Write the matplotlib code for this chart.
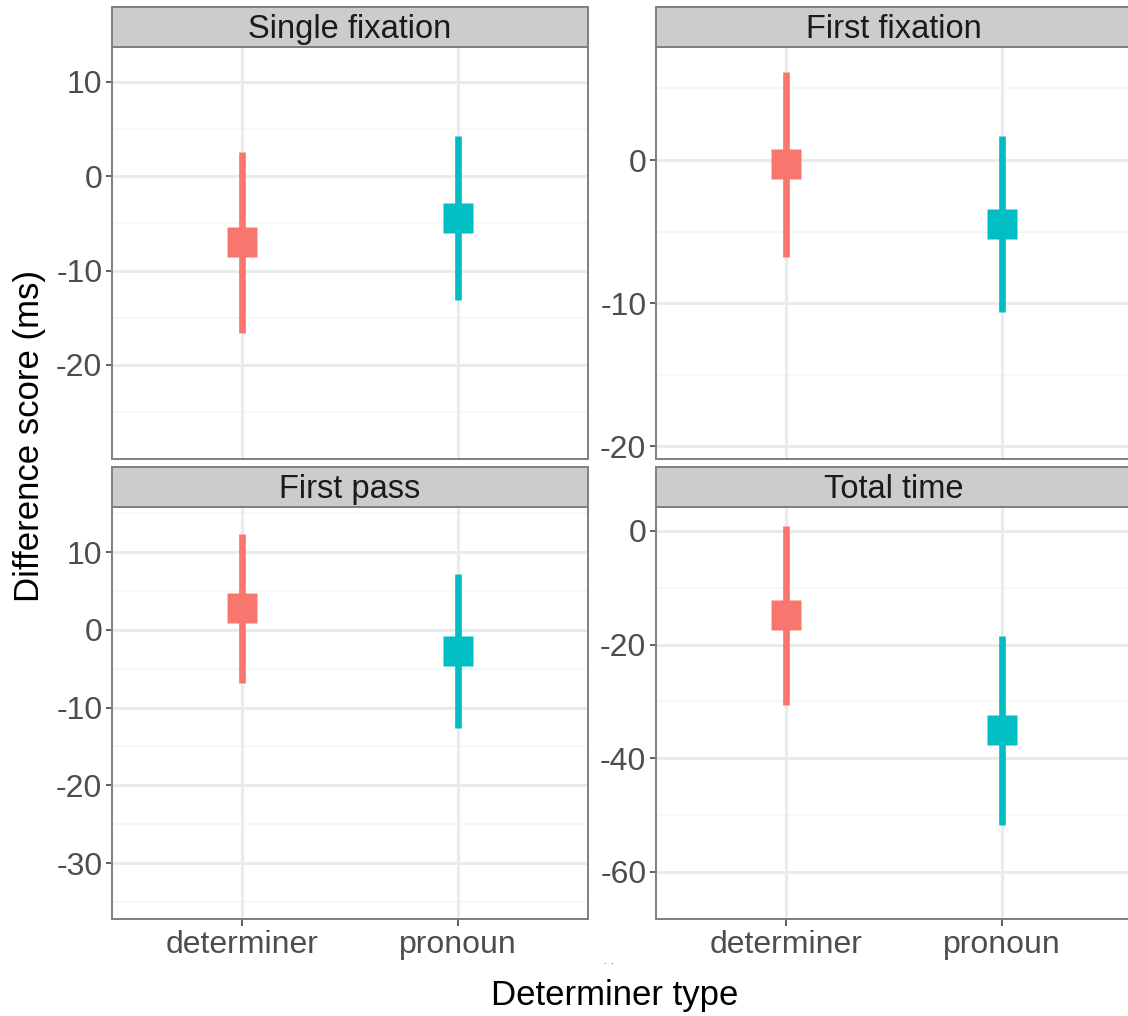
import numpy as np
import matplotlib.pyplot as plt

plt.rcParams['font.family'] = ['Liberation Sans', 'DejaVu Sans']

# data
measures = ['Single fixation', 'First fixation', 'First pass', 'Total time']
det_types = ['determiner', 'pronoun']
estimate = {
    'Single fixation': [-7.0, -4.4],
    'First fixation': [-0.3, -4.5],
    'First pass': [2.8, -2.7],
    'Total time': [-14.8, -35.0],
}
ci_low = {
    'Single fixation': [-16.6, -13.1],
    'First fixation': [-6.8, -10.6],
    'First pass': [-6.85, -12.6],
    'Total time': [-30.6, -51.7],
}
ci_high = {
    'Single fixation': [2.6, 4.3],
    'First fixation': [6.15, 1.7],
    'First pass': [12.3, 7.2],
    'Total time': [0.9, -18.5],
}
y_limits = {
    'Single fixation': (-29.97, 13.71),
    'First fixation': (-20.9, 7.9),
    'First pass': (-37.2, 15.8),
    'Total time': (-68.3, 4.2),
}
y_breaks = {
    'Single fixation': [-20, -10, 0, 10],
    'First fixation': [-20, -10, 0],
    'First pass': [-30, -20, -10, 0, 10],
    'Total time': [-60, -40, -20, 0],
}
colors = ['#F8766D', '#00BFC4']

W, H = 1128, 1016
fig = plt.figure(figsize=(W / 100, H / 100), dpi=100)


def px_axes(x0, y0, x1, y1):
    return fig.add_axes([x0 / W, 1 - y1 / H, (x1 - x0) / W, (y1 - y0) / H])


# panel boxes in pixels: (left, strip top, strip bottom, panel bottom)
boxes = [
    (112, 7, 47, 459),
    (656, 7, 47, 459),
    (112, 467, 507, 919),
    (656, 467, 507, 919),
]
pw = 476

for i, m in enumerate(measures):
    x0, st, sb, pb = boxes[i]
    ax = px_axes(x0, sb, x0 + pw, pb)
    strip = px_axes(x0, st, x0 + pw, sb)

    # strip
    strip.set_facecolor('#CCCCCC')
    strip.set_xticks([])
    strip.set_yticks([])
    for s in strip.spines.values():
        s.set_color('#7F7F7F')
        s.set_linewidth(1.4)
    strip.text(0.5, 0.43, m, ha='center', va='center', fontsize=23.5,
               color='#1A1A1A', transform=strip.transAxes)

    # panel
    xs = np.arange(len(det_types))
    lo, hi = y_limits[m]
    ax.set_xlim(-0.6, 1.6)
    ax.set_ylim(lo, hi)
    brk = y_breaks[m]
    step = brk[1] - brk[0]
    minors = [b + step / 2 for b in [brk[0] - step] + brk if lo < b + step / 2 < hi]
    for v in minors:
        ax.axhline(v, color='#F5F5F5', lw=1.1, zorder=0)
    for v in brk:
        ax.axhline(v, color='#EBEBEB', lw=2.2, zorder=0)
    for x in xs:
        ax.axvline(x, color='#EBEBEB', lw=2.2, zorder=0)

    ax.vlines(xs, ci_low[m], ci_high[m], colors=colors, lw=4.8,
              capstyle='butt', zorder=2)
    for x, e, c in zip(xs, estimate[m], colors):
        ax.plot(x, e, marker='s', markersize=21, color=c, mec='none',
                linestyle='none', zorder=3)

    ax.set_yticks(brk)
    ax.set_yticklabels([str(b) for b in brk])
    ax.tick_params(axis='y', length=4, width=1.1, color='#333333',
                   labelsize=23, labelcolor='#4D4D4D', pad=3)
    ax.set_xticks(xs)
    if i >= 2:
        ax.set_xticklabels(det_types)
        ax.tick_params(axis='x', length=5, width=1.1, color='#333333',
                       labelsize=23, labelcolor='#4D4D4D', pad=3)
    else:
        ax.set_xticklabels([])
        ax.tick_params(axis='x', length=0)
    for s in ax.spines.values():
        s.set_color('#7F7F7F')
        s.set_linewidth(1.4)

fig.text(30 / W, 1 - 436 / H, 'Difference score (ms)', rotation=90,
         ha='center', va='center', fontsize=25, color='black')
fig.text(615 / W, 1 - 996 / H, 'Determiner type', ha='center', va='center',
         fontsize=25, color='black')
fig.text(609 / W, 1 - 962 / H, '.  .', ha='center', va='center',
         fontsize=6, color='black')

fig.savefig('out.png', dpi=100)
